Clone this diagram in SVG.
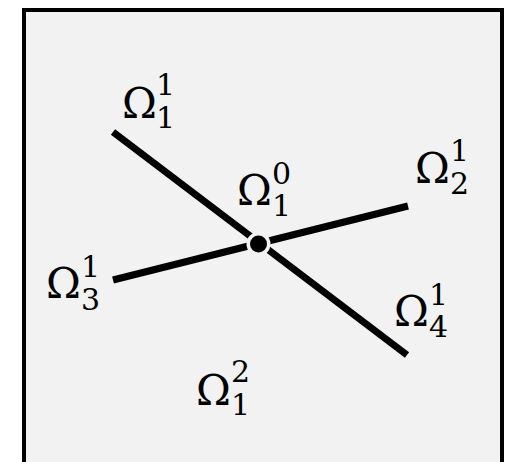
<svg xmlns="http://www.w3.org/2000/svg" width="508" height="462" viewBox="0 0 508 462">
<style>
.lbl{font-family:"DejaVu Serif","Liberation Serif",serif;fill:#000}
.om{font-size:42px}
.ix{font-size:30px}
.seg{stroke:#000;stroke-width:7;stroke-linecap:butt;fill:none}
</style>
<rect id="domain" x="24" y="10" width="478" height="470" fill="#f2f2f2" stroke="#000" stroke-width="4"/>
<g id="connectors">
<line class="seg" x1="113" y1="132" x2="407" y2="355"/>
<line class="seg" x1="113" y1="280" x2="408" y2="206"/>
</g>
<g id="junction">
<circle cx="258.5" cy="244" r="12" fill="#f2f2f2"/>
<circle cx="258.5" cy="244" r="8.5" fill="#000"/>
</g>
<g id="label-O11" class="lbl">
<text class="om" x="122" y="118">Ω</text>
<text class="ix" x="156" y="95">1</text>
<text class="ix" x="156" y="128">1</text>
</g>
<g id="label-O10" class="lbl">
<text class="om" x="237" y="205">Ω</text>
<text class="ix" x="272" y="184">0</text>
<text class="ix" x="272" y="216">1</text>
</g>
<g id="label-O21" class="lbl">
<text class="om" x="415" y="183">Ω</text>
<text class="ix" x="450" y="161">1</text>
<text class="ix" x="450" y="194">2</text>
</g>
<g id="label-O31" class="lbl">
<text class="om" x="46" y="298">Ω</text>
<text class="ix" x="81" y="277">1</text>
<text class="ix" x="81" y="310">3</text>
</g>
<g id="label-O41" class="lbl">
<text class="om" x="394" y="326">Ω</text>
<text class="ix" x="429" y="305">1</text>
<text class="ix" x="429" y="337">4</text>
</g>
<g id="label-O12" class="lbl">
<text class="om" x="196" y="405">Ω</text>
<text class="ix" x="231" y="382">2</text>
<text class="ix" x="231" y="415">1</text>
</g>
</svg>
